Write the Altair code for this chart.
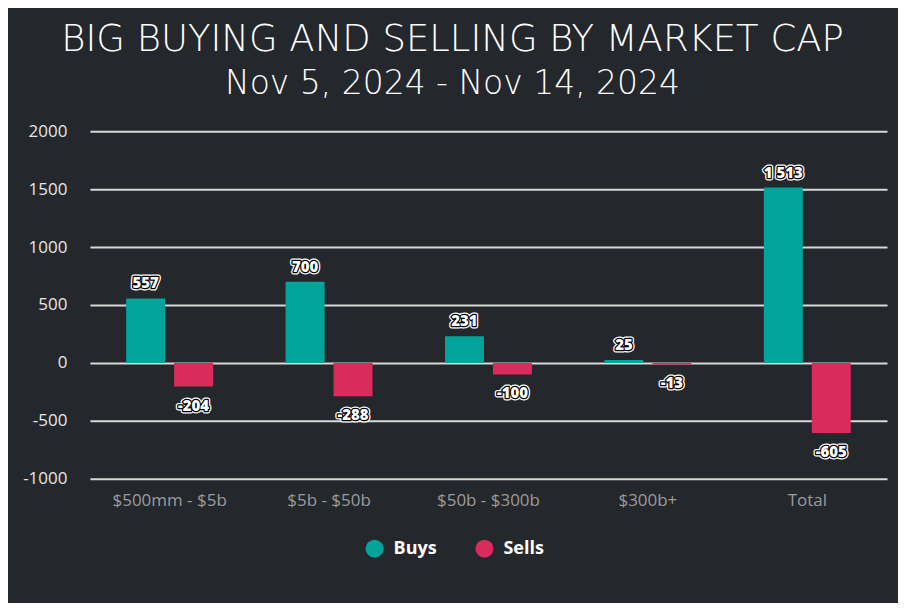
import altair as alt
import pandas as pd

categories = ["$500mm - $5b", "$5b - $50b", "$50b - $300b", "$300b+", "Total"]
buys = [557, 700, 231, 25, 1513]
sells = [-204, -288, -100, -13, -605]
series = ["Buys", "Sells"]
colors = ["#00a49a", "#d92b5c"]
y_ticks = [-1000, -500, 0, 500, 1000, 1500, 2000]

rows = []
for c, b, s in zip(categories, buys, sells):
    rows.append({"cat": c, "series": "Buys", "value": b, "label": f"{b:,}".replace(",", " ")})
    rows.append({"cat": c, "series": "Sells", "value": s, "label": f"{s:,}".replace(",", " ")})
df = pd.DataFrame(rows)

FONT = "Open Sans"
TITLE_FONT = "DejaVu Sans"
BG = "#24272b"

x_enc = alt.X("cat:N", sort=categories,
              scale=alt.Scale(paddingInner=0, paddingOuter=0),
              axis=alt.Axis(title=None, labelAngle=0, labelColor="#9b9b9b", labelFontSize=17,
                            labelFont=FONT, ticks=False, domain=False, grid=False, labelPadding=14))
xo_enc = alt.XOffset("series:N", sort=series,
                     scale=alt.Scale(paddingInner=0.1875, paddingOuter=0.756))
y_enc = alt.Y("value:Q", scale=alt.Scale(domain=[-1000, 2000], nice=False),
              axis=alt.Axis(title=None, values=y_ticks, labelColor="#e6e6e6", labelFontSize=17,
                            labelFont=FONT, ticks=False, domain=False, grid=True,
                            labelExpr="'' + datum.value",
                            gridColor="#d8d8d8", gridWidth=2, labelPadding=23))

base = alt.Chart(df)

bars = base.mark_bar().encode(
    x=x_enc, xOffset=xo_enc, y=y_enc,
    color=alt.Color("series:N", sort=series,
                    scale=alt.Scale(domain=series, range=colors),
                    legend=alt.Legend(title=None, orient="none", direction="horizontal",
                                      legendX=276, legendY=409,
                                      symbolType="circle", symbolSize=324, symbolStrokeWidth=0,
                                      labelColor="white", labelFont=FONT, labelFontWeight="bold",
                                      labelFontSize=18, labelOffset=10, columnPadding=38)),
)


def label_layers(which, baseline, dy):
    layers = []
    for stroke, sw in [("white", 5), ("black", 2.5), (None, 0)]:
        kw = dict(font=FONT, fontWeight=800, fontSize=15, baseline=baseline, dy=dy,
                  fill="white", align="center")
        if stroke:
            kw["stroke"] = stroke
            kw["strokeWidth"] = sw
            kw["strokeJoin"] = "round"
        layers.append(
            base.transform_filter(alt.datum.series == which)
            .mark_text(**kw)
            .encode(x=alt.X("cat:N", sort=categories), xOffset=alt.XOffset("series:N", sort=series),
                    y="value:Q", text="label:N")
        )
    return layers


chart = alt.layer(
    bars,
    *label_layers("Buys", "bottom", -7),
    *label_layers("Sells", "top", 12),
).properties(
    width=798, height=348,
    background=BG,
    padding={"left": 82, "top": 123, "right": 11, "bottom": 124},
    autosize=alt.AutoSizeParams(type="none"),
    title=alt.Title("BIG BUYING AND SELLING BY MARKET CAP",
                    subtitle="Nov 5, 2024 - Nov 14, 2024",
                    font=TITLE_FONT, fontWeight=200, fontSize=37, color="white",
                    subtitleFont=TITLE_FONT, subtitleFontWeight=200, subtitleFontSize=33,
                    subtitleColor="white", subtitlePadding=9,
                    anchor="middle", dx=-36, offset=20),
).configure_view(stroke=None)

chart.save("out.html", embed_options={"renderer": "svg", "actions": False})
